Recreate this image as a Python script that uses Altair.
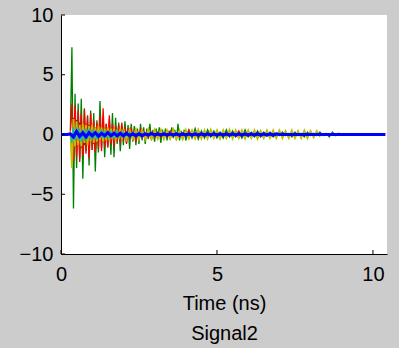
import altair as alt
import pandas as pd

# ---- data (time in ns, signal amplitude) ----
GREEN_EARLY_START, GREEN_EARLY_STEP = 0.30, 0.05
GREEN_EARLY = [0.4, 7.3, -6.2, 3.4, -2.8, 2.6, -2.0, 3.0, -3.7, 2.2,
               -1.4, 1.6, -2.6, 2.0, -1.3, 1.8, -3.1, 1.2, -1.5, 2.8,
               -1.1, 1.4, -1.9, 0.9, -1.0, 1.3, -1.7, 1.8, -1.9, 1.4,
               -0.8, 1.0, -1.4, 0.7, -0.9, 1.1, -0.7, 0.8, -1.2, 0.9,
               -0.6, 0.7, -0.9, 0.5, -0.8, 0.9, -0.5, 0.6, -0.8, 0.5,
               -0.4, 0.9, -0.5, 0.4, -0.6, 0.5, -0.4, 0.6, -0.7, 0.4,
               -0.3, 0.5, -0.5, 0.3, -0.4, 0.6, -0.3, 0.4, -0.5, 0.9,
               -0.5, 0.3, -0.4, 0.4]
GREEN_LATE_START, GREEN_LATE_STEP = 4.0, 0.1
GREEN_LATE = [-0.5, 0.4, -0.3, 0.5, -0.4, 0.3, -0.3, 0.4, -0.2, 0.3,
              -0.3, 0.2, -0.3, 0.4, -0.2, 0.3, -0.2, 0.2, -0.3, 0.4,
              -0.2, 0.2, -0.2, 0.3, -0.2, 0.2, -0.1, 0.2, -0.2, 0.1,
              -0.1, 0.2, -0.1, 0.1, -0.2, 0.2, -0.1, 0.1, -0.2, 0.2,
              -0.1, 0.1, -0.1, 0.2, -0.1, 0.1, -0.2, 0.2, -0.1, 0.1, 0.0]

RED_EARLY_START, RED_EARLY_STEP = 0.30, 0.05
RED_EARLY = [0.2, 2.6, -2.2, 2.4, -1.9, 2.0, -2.3, 1.7, -1.8, 2.1,
             -1.6, 1.5, -2.0, 1.8, -1.3, 1.2, -1.5, 1.0, -1.2, 1.6,
             -1.4, 2.2, -1.0, 0.9, -1.1, 1.6, -0.8, 0.9, -1.0, 0.7,
             -0.6, 0.8, -0.7, 1.0, -0.5, 0.6, -0.8, 0.5, -0.4, 0.6,
             -0.5, 0.4, -0.6, 0.3, -0.4, 0.5, -0.3, 0.3, -0.4, 0.3,
             -0.3, 0.2, -0.3, 0.2, -0.2]
RED_LATE_START, RED_LATE_STEP = 3.1, 0.1
RED_LATE = [0.2, -0.2, 0.15, -0.2, 0.3, -0.15, 0.1, -0.2, 0.15, -0.1,
            0.35, -0.15, 0.1, -0.2, 0.1, -0.1, 0.15, -0.1, 0.1, -0.15,
            0.1, -0.1, 0.15, -0.1, 0.1, -0.1, 0.3, -0.1, 0.1, -0.1,
            0.1, -0.1, 0.15, -0.1, 0.1, -0.1, 0.1, -0.05, 0.05, 0.0]

GRAY_START, GRAY_STEP = 0.30, 0.05
GRAY = [0.2, -1.6, 1.4, -1.0, 1.2, -0.9, 1.0, -1.1, 0.8, -0.9,
        0.9, -0.7, 0.8, -0.6, 0.7, -0.8, 0.6, -0.5, 0.6, -0.5,
        0.5, -0.6, 0.4, -0.4, 0.5, -0.4, 0.3, -0.4, 0.3, -0.3,
        0.3, -0.2, 0.2, -0.2]

YELLOW_EARLY_START, YELLOW_EARLY_STEP = 0.30, 0.05
YELLOW_EARLY = [0.3, -2.8, 1.3, -1.0, 1.1, -0.9, 0.8, -1.0, 0.9, -0.7,
                0.8, -0.9, 0.7, -0.6, 0.8, -0.7, 0.6, -0.6, 0.7, -0.5,
                0.6, -0.6, 0.5, -0.5, 0.6, -0.5, 0.5, -0.4, 0.5, -0.5,
                0.4, -0.4, 0.5, -0.4]
YELLOW_LATE_START, YELLOW_LATE_STEP = 2.0, 0.1
YELLOW_LATE = [0.45, -0.4, 0.4, -0.35, 0.45, -0.4, 0.35, -0.4, 0.45, -0.35,
               0.4, -0.35, 0.4, -0.4, 0.35, -0.35, 0.4, -0.35, 0.35, -0.4,
               0.4, -0.35, 0.35, -0.35, 0.4, -0.35, 0.35, -0.35, 0.4, -0.3,
               0.35, -0.35, 0.35, -0.3, 0.4, -0.35, 0.35, -0.3, 0.35, -0.35,
               0.35, -0.3, 0.35, -0.35, 0.3, -0.3, 0.35, -0.3, 0.35, -0.3,
               0.35, -0.3, 0.3, -0.3, 0.35, -0.3, 0.3, -0.3, 0.35, -0.3,
               0.3, -0.25, 0.3, -0.2]

CYAN_START, CYAN_STEP = 0.30, 0.05
CYAN = [0.1, -0.7, 0.6, -0.5, 0.6, -0.5, 0.5, -0.6, 0.4, -0.5,
        0.5, -0.4, 0.5, -0.4, 0.4, -0.4, 0.3, -0.4, 0.3, -0.3,
        0.4, -0.3, 0.3, -0.3, 0.3, -0.2, 0.3, -0.3, 0.2, -0.2,
        0.3, -0.2, 0.2, -0.2, 0.2, -0.2, 0.2, -0.15, 0.2, -0.15,
        0.15, -0.15, 0.15, -0.1, 0.15, -0.1, 0.1, -0.1, 0.1, -0.1,
        0.1, -0.05, 0.05, 0.0]

MAGENTA_START, MAGENTA_STEP = 2.0, 0.1
MAGENTA = [0.2, -0.2, 0.3, -0.2, 0.2, -0.25, 0.2, -0.2, 0.3, -0.2,
           0.2, -0.2, 0.25, -0.2, 0.2, -0.2, 0.3, -0.2, 0.2, -0.2,
           0.25, -0.2, 0.2, -0.2, 0.3, -0.2, 0.2, -0.25, 0.2, -0.2,
           0.25, -0.2, 0.2, -0.2, 0.25, -0.2, 0.2, -0.25, 0.2, -0.2,
           0.25, -0.2, 0.2, -0.2, 0.2, -0.25, 0.2, -0.2, 0.2, -0.2,
           0.25, -0.2, 0.2, -0.2, 0.2, -0.2, 0.15, -0.15, 0.15, -0.1,
           0.0]

BLUE_START, BLUE_STEP = 0.0, 0.1
BLUE = [0.0, 0.0, 0.0, 0.05, -0.2, 0.25, -0.15, 0.15, -0.2, 0.15,
        -0.1, 0.15, -0.15, 0.1, -0.1, 0.15, -0.1, 0.1, -0.1, 0.1,
        -0.1, 0.1, -0.1, 0.05, -0.1, 0.05, -0.1, 0.05, -0.05, 0.1,
        -0.05, 0.05, -0.05, 0.05, -0.05, 0.05, -0.05, 0.05, -0.05, 0.05,
        -0.05, 0.05, -0.05, 0.05, -0.05, 0.05, -0.05, 0.05, -0.05, 0.05,
        -0.05, 0.05, -0.05, 0.05, -0.05, 0.05, -0.05, 0.05, -0.05, 0.05,
        -0.05, 0.05, -0.05, 0.05, -0.05, 0.05, -0.05, 0.05, -0.05, 0.05,
        0.0, 0.0, 0.0, 0.0, 0.0, 0.0, 0.0, 0.0, 0.0, 0.0,
        0.0, 0.0, 0.0, 0.0, 0.0, 0.0, 0.0, 0.0, 0.0, 0.0,
        0.0, 0.0, 0.0, 0.0, 0.0, 0.0, 0.0, 0.0, 0.0, 0.0,
        0.0, 0.0, 0.0, 0.0, 0.0]

Y_TICKS = [-10, -5, 0, 5, 10]
X_TICKS = [0, 5, 10]
X_MAX = 10.45


def seg(start, step, vals):
    return [round(start + i * step, 4) for i in range(len(vals))], list(vals)


def series(*segs):
    ts, vs = [], []
    for start, step, vals in segs:
        t, v = seg(start, step, vals)
        ts += t
        vs += v
    return pd.DataFrame({"t": ts, "v": vs})


SERIES = [
    ("green", "#008000", 1.3, series((GREEN_EARLY_START, GREEN_EARLY_STEP, GREEN_EARLY),
                                      (GREEN_LATE_START, GREEN_LATE_STEP, GREEN_LATE))),
    ("red", "#ff0000", 1.3, series((RED_EARLY_START, RED_EARLY_STEP, RED_EARLY),
                                    (RED_LATE_START, RED_LATE_STEP, RED_LATE))),
    ("gray", "#404040", 1.2, series((GRAY_START, GRAY_STEP, GRAY))),
    ("magenta", "#bf00bf", 1.2, series((MAGENTA_START, MAGENTA_STEP, MAGENTA))),
    ("yellow", "#bfbf00", 1.8, series((YELLOW_EARLY_START, YELLOW_EARLY_STEP, YELLOW_EARLY),
                                       (YELLOW_LATE_START, YELLOW_LATE_STEP, YELLOW_LATE))),
    ("cyan", "#00bfbf", 1.3, series((CYAN_START, CYAN_STEP, CYAN))),
    ("blue", "#0000ff", 3.2, series((BLUE_START, BLUE_STEP, BLUE))),
]

FONT = "Liberation Sans"
FS = 20
x_scale = alt.Scale(domain=[0, X_MAX], nice=False, zero=False)
y_scale = alt.Scale(domain=[-10, 10], nice=False)

x_axis = alt.Axis(values=X_TICKS, ticks=False, grid=False, domainColor="black",
                  labelFontSize=FS, labelColor="black", labelFont=FONT, labelPadding=10,
                  labelFlush=False,
                  title=["Time (ns)", "Signal2"], titleFont=FONT, titleFontSize=FS,
                  titleFontWeight="normal", titleColor="black", titlePadding=9,
                  titleLineHeight=30)
y_axis = alt.Axis(values=Y_TICKS, ticks=False, grid=False, domainColor="black",
                  labelFontSize=FS, labelColor="black", labelFont=FONT, labelPadding=8,
                  labelFlush=False, title=None)

X = alt.X("t:Q", scale=x_scale, axis=x_axis)
Yv = alt.Y("v:Q", scale=y_scale, axis=y_axis)

layers = []
for name, color, sw, df in SERIES:
    layers.append(alt.Chart(df).mark_line(color=color, strokeWidth=sw, clip=True).encode(x=X, y=Yv))

ytick_df = pd.DataFrame({"v": Y_TICKS})
xtick_df = pd.DataFrame({"t": X_TICKS})
yticks = alt.Chart(ytick_df).mark_rule(color="black", strokeWidth=1).encode(
    y=Yv, x=alt.value(0), x2=alt.value(4))
xticks = alt.Chart(xtick_df).mark_rule(color="black", strokeWidth=1).encode(
    x=X, y=alt.value(239), y2=alt.value(235))

chart = alt.layer(*layers, yticks, xticks).properties(
    width=326, height=239,
    autosize=alt.AutoSizeParams(type="none"),
    padding={"left": 61, "top": 15, "right": 12, "bottom": 94},
    background="#cccccc",
).configure_view(fill="white", stroke=None)

chart.save("out.html", embed_options={"renderer": "svg", "actions": False})
